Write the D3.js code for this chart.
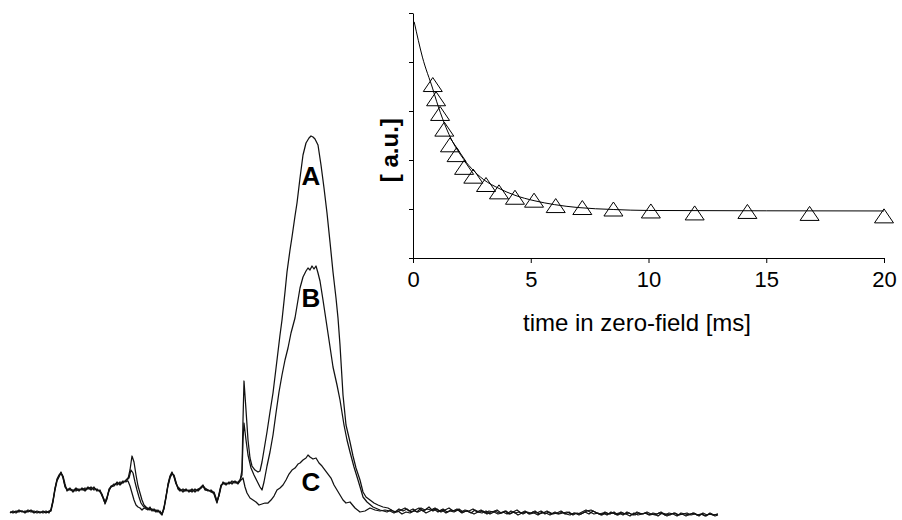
<!DOCTYPE html>
<html lang="en">
<head>
  <meta charset="UTF-8">
  <script src="https://d3js.org/d3.v7.min.js"></script>
  <style>
    body { margin: 0; background: #fff; }
    text { font-family: "Liberation Sans", Arial, sans-serif; fill: #000; }
  </style>
</head>
<body>
<script>
  // spectra: [channel, counts]
  const traceA = [[0,0],[3,2],[6,1],[9,3],[12,1],[15,2],[18,1],[21,3],[24,1],[27,0],[30,1],[33,0],[36,1],[39,1],[41,3],[43,13],[45,25],[47,33],[49,37],[51,41],[53,35],[55,27],[57,23],[60,25],[63,21],[66,24],[69,22],[72,25],[75,23],[78,26],[81,24],[84,25],[87,23],[90,22],[92,19],[94,13],[95,10],[97,15],[99,23],[101,27],[104,28],[107,30],[110,29],[113,32],[116,31],[118,34],[120,43],[122,57],[124,51],[126,38],[128,27],[130,20],[132,13],[134,8],[136,6],[138,4],[140,5],[142,3],[144,4],[146,2],[148,3],[150,0],[152,-2],[154,5],[156,17],[158,28],[160,36],[162,40],[164,37],[166,30],[168,25],[170,23],[173,22],[176,24],[179,21],[182,23],[185,22],[188,23],[191,26],[193,28],[195,24],[198,22],[201,23],[204,20],[206,14],[207,11],[209,18],[211,27],[213,30],[216,28],[219,31],[222,29],[225,32],[228,30],[230,32],[232,43],[233,93],[234,132],[236,103],[238,73],[240,55],[242,47],[245,43],[248,41],[250,42],[252,51],[254,63],[257,81],[260,101],[263,120],[267,153],[270,178],[272,193],[275,221],[277,241],[280,263],[282,276],[285,297],[287,310],[290,335],[293,358],[296,370],[299,375],[301,377],[303,376],[305,374],[308,368],[311,348],[314,325],[317,300],[320,271],[323,241],[326,215],[328,195],[330,168],[333,118],[336,88],[340,71],[343,57],[346,45],[350,33],[353,21],[356,16],[360,13],[364,10],[368,8],[373,6],[378,5],[383,2],[387,1],[391,3],[395,5],[399,2],[403,4],[407,1],[411,5],[415,3],[419,6],[423,2],[427,4],[431,1],[435,3],[439,5],[443,2],[447,4],[451,1],[455,3],[459,2],[463,4],[467,1],[471,3],[475,0],[479,2],[483,1],[487,3],[491,0],[495,2],[499,-1],[503,1],[507,3],[511,0],[515,2],[519,-1],[523,1],[527,0],[531,2],[535,-1],[539,1],[543,-1],[547,0],[551,2],[555,-1],[559,1],[563,-2],[567,0],[571,-1],[575,1],[579,-1],[583,2],[587,0],[591,-2],[595,1],[599,-1],[603,0],[607,-2],[611,1],[615,-1],[619,0],[623,-2],[627,1],[631,-1],[635,0],[639,-2],[643,0],[647,-1],[651,1],[655,-2],[659,0],[663,-1],[667,-3],[671,0],[675,-1],[679,-2],[683,0],[687,-2],[691,-1],[695,-3],[699,-1],[703,-2],[708,-1]];

  const traceB = [[0,1],[3,0],[6,2],[9,1],[12,2],[15,0],[18,2],[21,1],[24,2],[27,1],[30,0],[33,2],[36,0],[39,2],[41,2],[43,11],[45,23],[47,32],[49,36],[51,40],[53,37],[55,29],[57,22],[60,24],[63,23],[66,22],[69,24],[72,23],[75,25],[78,24],[81,26],[84,23],[87,24],[90,21],[92,18],[94,12],[95,11],[97,16],[99,22],[101,26],[104,29],[107,28],[110,31],[113,30],[116,33],[118,35],[119,35],[121,43],[123,40],[125,31],[127,23],[129,16],[131,10],[133,7],[136,5],[138,5],[140,3],[142,4],[144,2],[146,3],[148,1],[150,2],[152,-1],[154,4],[156,15],[158,27],[160,35],[162,39],[164,38],[166,31],[168,24],[170,22],[173,24],[176,22],[179,23],[182,21],[185,24],[188,22],[191,25],[193,27],[195,25],[198,23],[201,21],[204,21],[206,15],[207,12],[209,17],[211,26],[213,31],[216,29],[219,30],[222,31],[225,30],[228,31],[230,33],[232,38],[233,73],[234,90],[236,73],[238,58],[241,45],[244,38],[247,32],[250,26],[252,23],[254,31],[257,47],[260,61],[263,78],[266,100],[269,121],[272,138],[275,153],[278,165],[281,180],[285,195],[288,213],[290,225],[293,236],[296,242],[298,245],[300,243],[302,247],[304,244],[306,247],[308,240],[310,232],[313,213],[316,193],[319,173],[323,146],[327,128],[330,113],[334,88],[337,73],[340,61],[344,46],[348,33],[351,23],[353,16],[357,11],[363,6],[370,3],[377,1],[381,3],[385,1],[389,4],[393,2],[397,4],[401,1],[405,3],[409,5],[413,2],[417,4],[421,3],[425,5],[429,2],[433,4],[437,1],[441,3],[445,2],[449,4],[453,1],[457,2],[461,0],[465,3],[469,1],[473,2],[477,-1],[481,1],[485,2],[489,0],[493,1],[497,-1],[501,2],[505,0],[509,1],[513,-1],[517,1],[521,0],[525,2],[529,-1],[533,0],[537,2],[541,-1],[545,1],[549,-1],[553,0],[557,1],[561,-1],[565,0],[569,-2],[573,0],[577,2],[581,3],[585,1],[589,-1],[593,0],[597,-2],[601,1],[605,-1],[609,0],[613,-2],[617,1],[621,-1],[625,-2],[629,0],[633,-1],[637,1],[641,-1],[645,-2],[649,0],[653,-1],[657,-3],[661,-1],[665,0],[669,-2],[673,-1],[677,0],[681,-2],[685,-1],[689,-3],[693,0],[697,-2],[701,-1],[705,-3],[708,-2]];

  const traceC = [[0,1],[3,1],[6,0],[9,2],[12,2],[15,1],[18,3],[21,2],[24,0],[27,2],[30,1],[33,1],[36,2],[39,0],[41,4],[43,12],[45,24],[47,34],[49,38],[51,40],[53,36],[55,26],[57,24],[60,23],[63,22],[66,25],[69,23],[72,24],[75,22],[78,25],[81,23],[84,26],[87,22],[90,23],[92,17],[94,14],[95,9],[97,14],[99,24],[101,26],[104,27],[107,31],[110,28],[113,31],[116,32],[118,32],[120,27],[122,20],[124,13],[126,8],[128,6],[130,5],[132,3],[134,5],[136,4],[138,3],[140,6],[142,2],[144,3],[146,1],[148,2],[150,1],[152,-1],[154,6],[156,16],[158,29],[160,37],[162,41],[164,36],[166,29],[168,26],[170,24],[173,21],[176,23],[179,22],[182,24],[185,21],[188,24],[191,25],[193,27],[195,23],[198,23],[201,22],[204,19],[206,13],[207,10],[209,19],[211,28],[213,29],[216,30],[219,29],[222,32],[225,31],[228,29],[230,32],[233,35],[235,26],[237,20],[240,15],[243,13],[246,11],[249,8],[252,9],[255,10],[258,10],[261,13],[264,17],[267,23],[270,25],[273,28],[276,33],[279,39],[282,43],[285,45],[288,49],[290,50],[293,53],[296,55],[298,58],[300,56],[303,54],[306,55],[309,50],[312,47],[315,43],[318,39],[321,35],[324,28],[327,23],[330,18],[333,13],[336,10],[340,11],[345,5],[350,1],[355,2],[360,5],[365,3],[370,2],[375,3],[380,2],[384,0],[388,2],[392,-1],[396,1],[400,0],[404,2],[408,1],[412,3],[416,0],[420,2],[424,4],[428,1],[432,3],[436,0],[440,2],[444,1],[448,3],[452,0],[456,2],[460,1],[464,-1],[468,1],[472,0],[476,2],[480,-1],[484,1],[488,-1],[492,0],[496,2],[500,-1],[504,1],[508,-2],[512,0],[516,1],[520,-1],[524,0],[528,-2],[532,1],[536,0],[540,-2],[544,0],[548,-1],[552,1],[556,-1],[560,-2],[564,0],[568,-1],[572,1],[576,3],[580,1],[584,-1],[588,0],[592,-2],[596,0],[600,-1],[604,1],[608,-2],[612,0],[616,-1],[620,-3],[624,0],[628,-2],[632,-1],[636,0],[640,-2],[644,-1],[648,-3],[652,0],[656,-1],[660,-2],[664,0],[668,-2],[672,-1],[676,-3],[680,-1],[684,0],[688,-2],[692,-1],[696,-3],[700,0],[704,-2],[708,-1]];

  const traceLabels = ["A", "B", "C"];
  const labelPos = [[301, 337], [301, 215], [301, 31]];   // [channel, counts] where the letter sits

  // inset: decay in zero field
  const triTimes = [0.84, 0.98, 1.15, 1.33, 1.57, 1.85, 2.17, 2.56, 3.10, 3.65, 4.33, 5.14, 6.06, 7.19, 8.51, 10.1, 11.96, 14.2, 16.84, 20.0];
  const triValues = [3.54, 3.25, 2.95, 2.63, 2.31, 2.11, 1.85, 1.67, 1.50, 1.35, 1.24, 1.18, 1.07, 1.03, 1.00, 0.96, 0.92, 0.95, 0.91, 0.86];
  const fitTimes = [0.05, 0.4, 0.84, 1.0, 1.33, 1.6, 2.0, 2.5, 3.0, 3.65, 4.33, 5.14, 6.0, 7.0, 8.5, 10, 20];
  const fitValues = [4.82, 4.1, 3.45, 3.2, 2.75, 2.45, 2.12, 1.82, 1.6, 1.42, 1.28, 1.17, 1.09, 1.03, 0.99, 0.97, 0.96];
  const xTicks = [0, 5, 10, 15, 20];
  const yTicks = [0, 1, 2, 3, 4, 5];

  const width = 902, height = 520;
  const svg = d3.select("body").append("svg")
    .attr("width", width)
    .attr("height", height);

  svg.append("rect").attr("width", width).attr("height", height).attr("fill", "#fff");

  // main spectrum (no axes)
  const x = d3.scaleLinear().domain([0, 708]).range([10, 718]);
  const y = d3.scaleLinear().domain([0, 376]).range([513, 137]);

  const line = d3.line()
    .x(d => x(d[0]))
    .y(d => y(d[1]));

  svg.selectAll(".trace")
    .data([traceA, traceB, traceC])
    .enter()
    .append("path")
    .attr("class", "trace")
    .attr("d", line)
    .attr("fill", "none")
    .attr("stroke", "#111")
    .attr("stroke-width", 1.25)
    .attr("stroke-linejoin", "round");

  svg.selectAll(".lbl")
    .data(traceLabels)
    .enter()
    .append("text")
    .attr("class", "lbl")
    .attr("x", (d, i) => x(labelPos[i][0]))
    .attr("y", (d, i) => y(labelPos[i][1]) + 9)
    .attr("text-anchor", "middle")
    .attr("font-size", 26)
    .attr("font-weight", "bold")
    .text(d => d);

  // inset
  const xi = d3.scaleLinear().domain([0, 20]).range([413, 884]);
  const yi = d3.scaleLinear().domain([0, 5]).range([258, 13]);

  const gx = svg.append("g")
    .attr("transform", `translate(0,${yi(0)})`)
    .call(d3.axisBottom(xi).tickValues(xTicks).tickSize(5).tickPadding(8).tickSizeOuter(0));
  gx.selectAll("text").attr("font-size", 22).attr("font-family", null);

  const gy = svg.append("g")
    .attr("transform", `translate(${xi(0)},0)`)
    .call(d3.axisLeft(yi).tickValues(yTicks).tickSize(4).tickFormat("").tickSizeOuter(0));

  svg.selectAll(".domain, .tick line").attr("stroke", "#000").attr("stroke-width", 1);

  svg.append("text")
    .attr("x", 637)
    .attr("y", 331)
    .attr("text-anchor", "middle")
    .attr("font-size", 24)
    .text("time in zero-field [ms]");

  svg.append("text")
    .attr("transform", `translate(398,${yi(2.2)}) rotate(-90)`)
    .attr("text-anchor", "middle")
    .attr("font-size", 24)
    .attr("font-weight", "bold")
    .text("[ a.u.]");

  const fit = fitTimes.map((t, i) => [t, fitValues[i]]);
  svg.append("path")
    .datum(fit)
    .attr("d", d3.line().x(d => xi(d[0])).y(d => yi(d[1])).curve(d3.curveMonotoneX))
    .attr("fill", "none")
    .attr("stroke", "#000")
    .attr("stroke-width", 1);

  const tri = "M0,-7L9.5,7L-9.5,7Z";
  svg.selectAll(".tri")
    .data(triTimes)
    .enter()
    .append("path")
    .attr("class", "tri")
    .attr("d", tri)
    .attr("transform", (d, i) => `translate(${xi(d)},${yi(triValues[i])})`)
    .attr("fill", "none")
    .attr("stroke", "#000")
    .attr("stroke-width", 1);
</script>
</body>
</html>
